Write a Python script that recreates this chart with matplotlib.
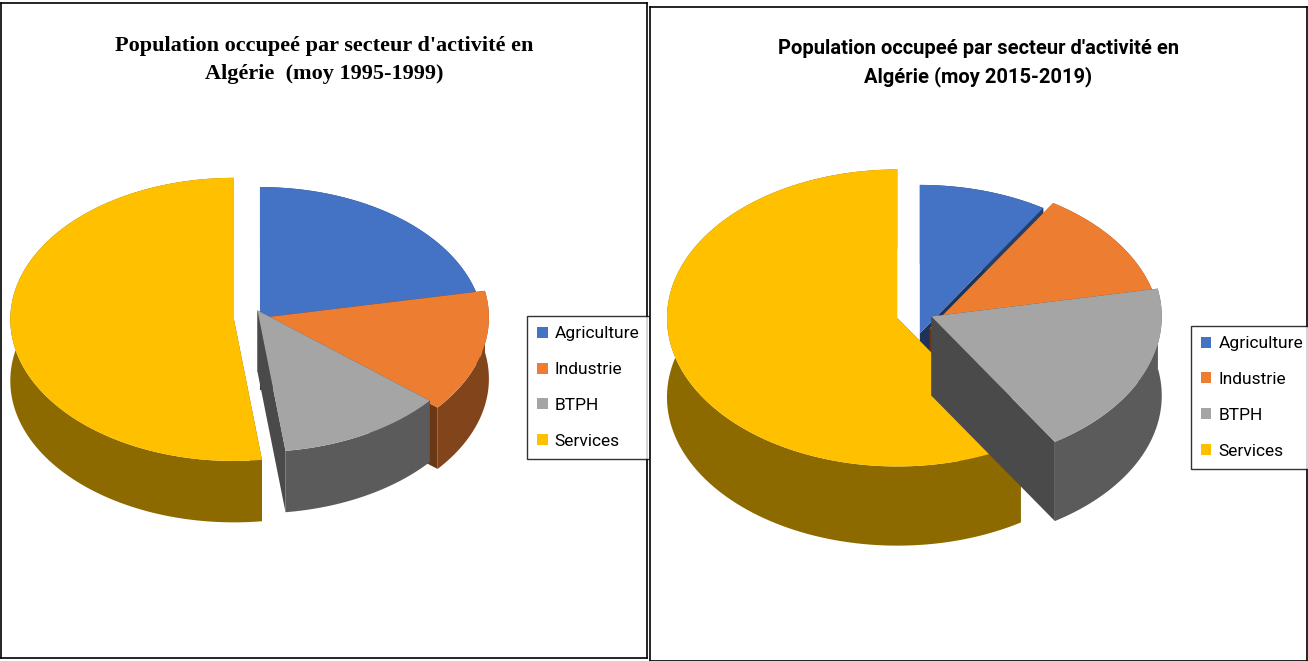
import numpy as np
import matplotlib.pyplot as plt
from matplotlib.patches import Polygon, Patch
from matplotlib.colors import to_rgb

labels = ['Agriculture', 'Industrie', 'BTPH', 'Services']
vals_1995 = [22, 14, 12, 52]
vals_2015 = [9, 13, 19, 59]
colors = ['#4472C4', '#ED7D31', '#A5A5A5', '#FFC000']

def darker(c, f=0.55):
    return tuple(v * f for v in to_rgb(c))

def pie3d(ax, vals, cx, cy, rx, ry, depth, expl):
    total = float(sum(vals))
    start = 90.0
    wedges = []
    for v, c in zip(vals, colors):
        span = 360.0 * v / total
        t1, t2 = start - span, start
        start = t1
        mid = np.radians((t1 + t2) / 2)
        ox, oy = cx + expl * np.cos(mid), cy + expl * 0.7 * np.sin(mid)
        wedges.append((t1, t2, ox, oy, c, np.sin(mid)))
    for t1, t2, ox, oy, c, s in sorted(wedges, key=lambda w: -w[5]):
        t = np.radians(np.linspace(t1, t2, 120))
        ax_ = ox + rx * np.cos(t)
        ay_ = oy + ry * np.sin(t)
        dc = darker(c)
        # radial faces
        for i in (0, -1):
            q = [(ox, oy), (ax_[i], ay_[i]), (ax_[i], ay_[i] - depth), (ox, oy - depth)]
            ax.add_patch(Polygon(q, closed=True, fc=darker(c, 0.45), ec='none'))
        # outer wall
        wall = np.column_stack([np.r_[ax_, ax_[::-1]], np.r_[ay_, ay_[::-1] - depth]])
        ax.add_patch(Polygon(wall, closed=True, fc=dc, ec='none'))
        top = np.column_stack([np.r_[ox, ax_], np.r_[oy, ay_]])
        ax.add_patch(Polygon(top, closed=True, fc=c, ec='none'))

fig = plt.figure(figsize=(13.08, 6.61), dpi=100)
panels = [
    ([0.001, 0.005, 0.494, 0.99], vals_1995,
     "Population occupeé par secteur d'activité en\nAlgérie  (moy 1995-1999)",
     'Liberation Serif', 16, (250, 320, 225, 143, 62, 16), (0.80, 0.29)),
    ([0.497, 0.0, 0.502, 0.99], vals_2015,
     "Population occupeé par secteur d'activité en\nAlgérie (moy 2015-2019)",
     'Roboto', 14.5, (262, 318, 228, 150, 80, 18), (0.81, 0.28)),
]
for rect, vals, title, fam, fs, geo, lpos in panels:
    ax = fig.add_axes(rect)
    ax.set_xlim(0, 650)
    ax.set_ylim(661, 0)
    ax.set_xticks([]); ax.set_yticks([])
    for sp in ax.spines.values():
        sp.set_linewidth(1.2)
    cx, cy, rx, ry, d, e = geo
    pie3d(ax, vals, cx, cy, rx, -ry, -d, e)
    ax.text(0.5, 0.95, title, transform=ax.transAxes, ha='center', va='top',
            fontsize=fs, fontweight='bold', family=fam, linespacing=1.5)
    handles = [Patch(fc=c, label=l) for c, l in zip(colors, labels)]
    ax.legend(handles=handles, loc='lower left', bbox_to_anchor=lpos,
              frameon=True, fancybox=False, edgecolor='black',
              handlelength=0.6, handleheight=0.6, labelspacing=1.2,
              handletextpad=0.4, borderpad=0.6,
              prop={'family': 'Roboto', 'size': 12.5})

fig.savefig('out.png', dpi=100)
